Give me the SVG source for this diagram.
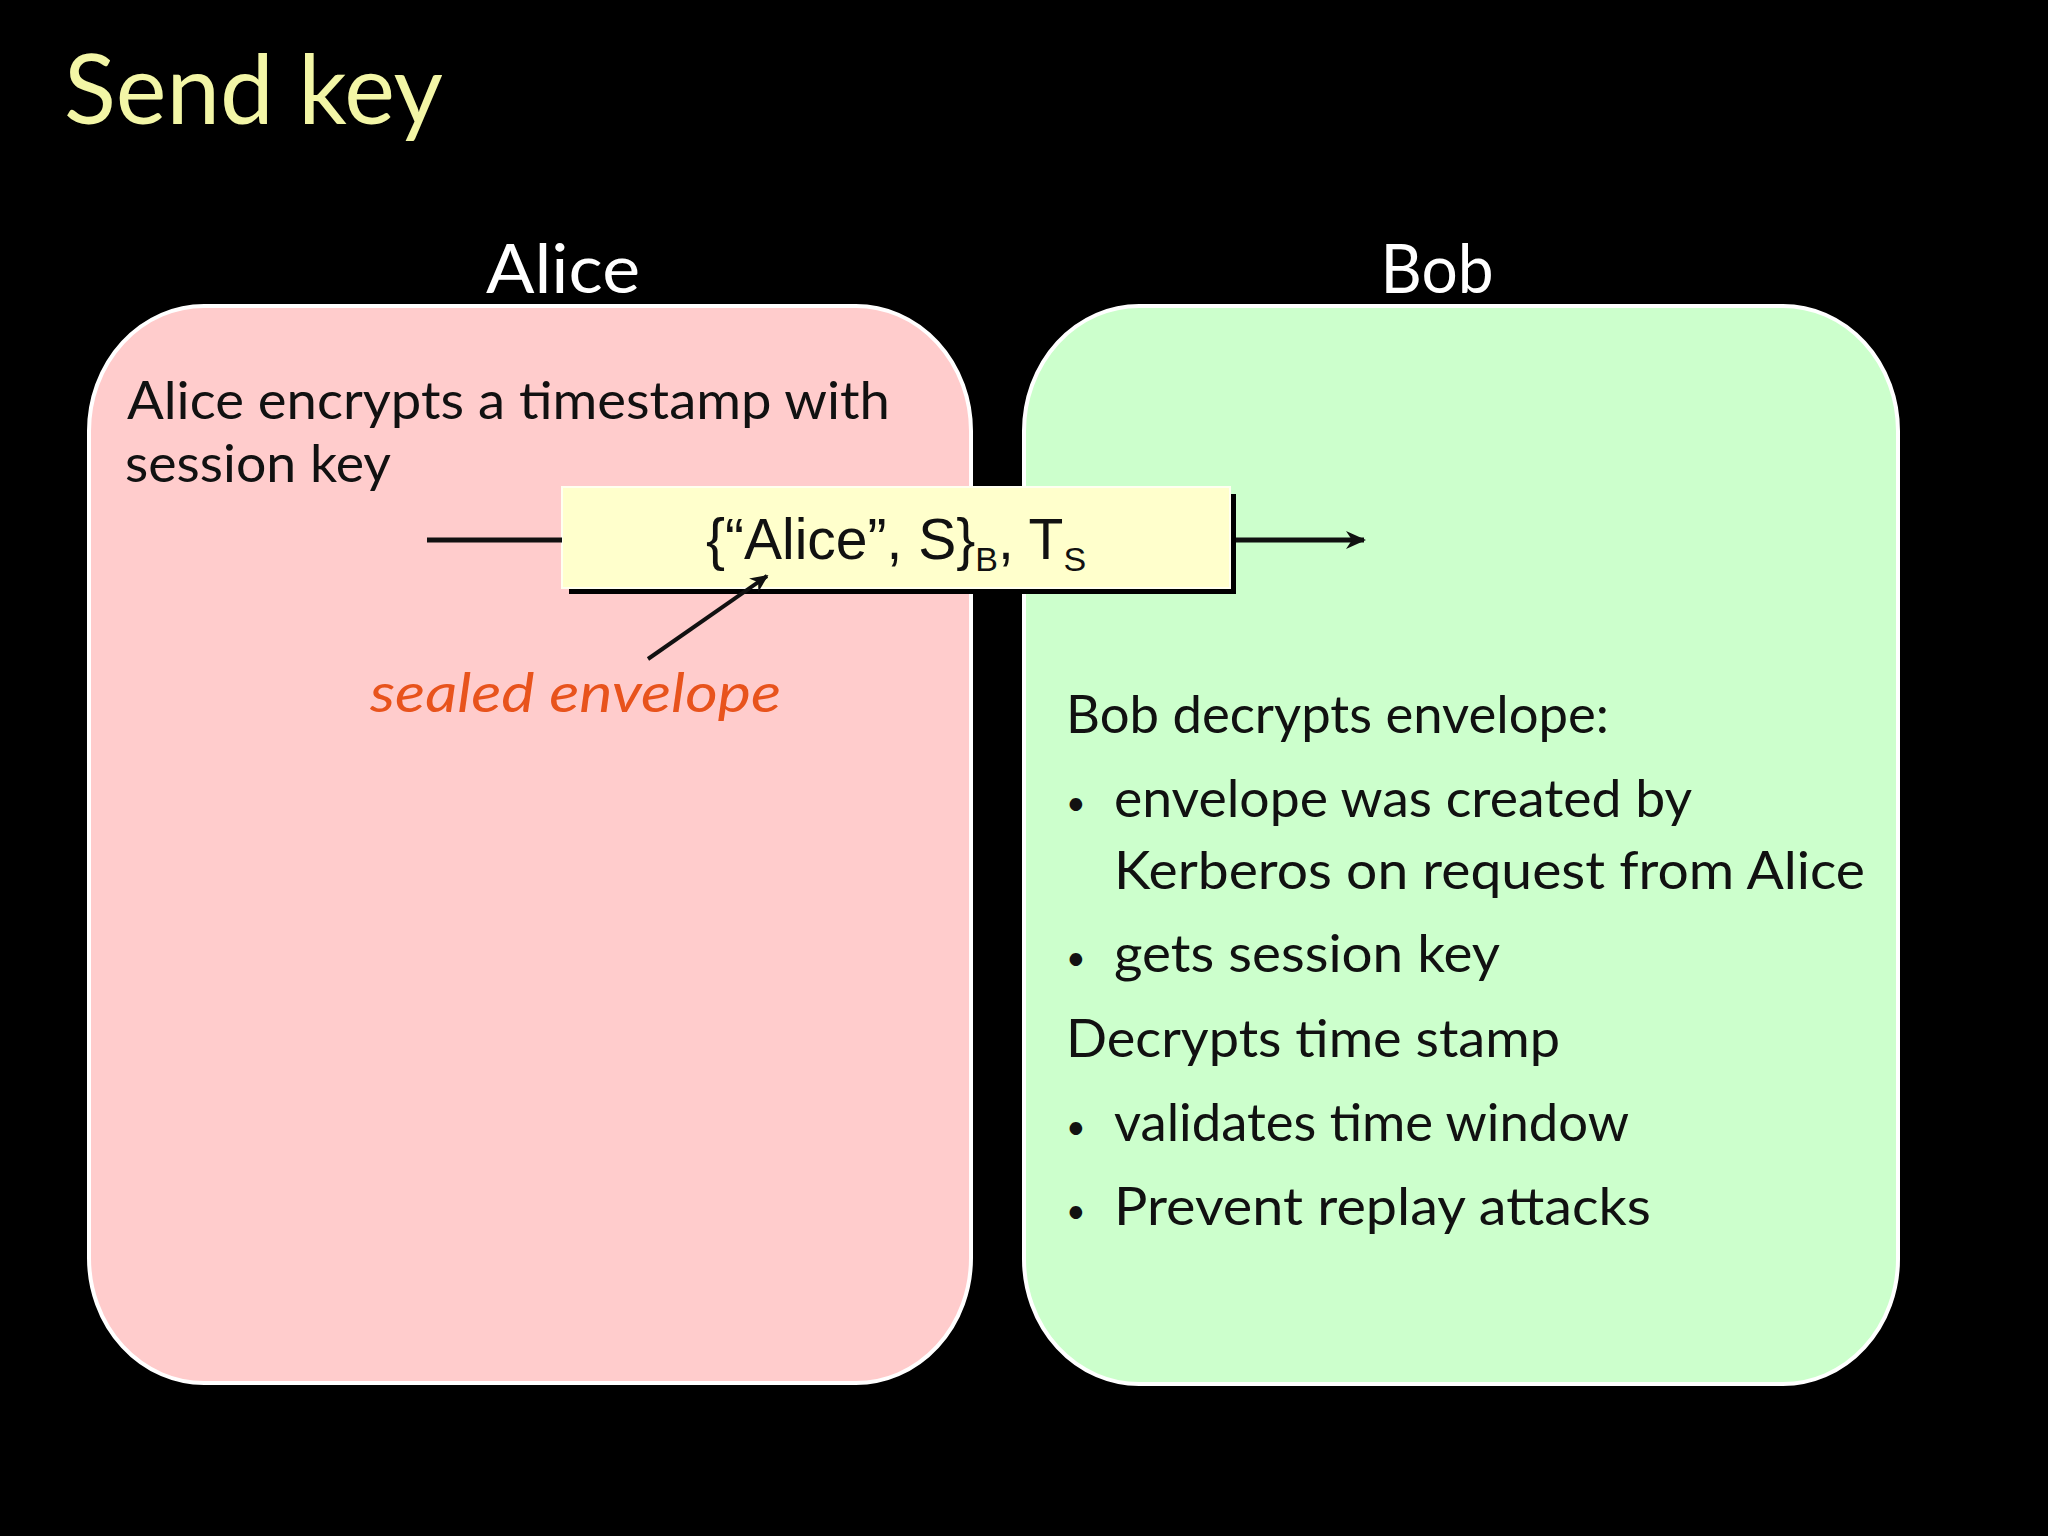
<svg xmlns="http://www.w3.org/2000/svg" width="2048" height="1536" viewBox="0 0 2048 1536">
  <style>
    .hand { font-family: "Comic Sans MS", "Lato", "DejaVu Sans", sans-serif; }
    .body { font-size: 52px; fill: #111; }
    .bullet { font-size: 34px; fill: #111; }
    .head { font-size: 68px; fill: #ffffff; }
    .panel { stroke: #ffffff; stroke-width: 4; }
    .wire { stroke: #111; fill: none; }
  </style>
  <defs>
    <marker id="stealth" viewBox="0 0 20 20" refX="18" refY="10" markerWidth="20" markerHeight="20" markerUnits="userSpaceOnUse" orient="auto">
      <path d="M0,1 L20,10 L0,19 L6,10 Z" fill="#111"/>
    </marker>
    <marker id="stealthSmall" viewBox="0 0 20 20" refX="18" refY="10" markerWidth="18" markerHeight="18" markerUnits="userSpaceOnUse" orient="auto">
      <path d="M0,1 L20,10 L0,19 L6,10 Z" fill="#111"/>
    </marker>
  </defs>
  <rect x="0" y="0" width="2048" height="1536" fill="#000000"/>

  <text id="title" class="hand" x="64" y="124" font-size="96" fill="#f3f6a6" textLength="379" lengthAdjust="spacingAndGlyphs">Send key</text>

  <g id="alice">
    <rect class="panel" x="89" y="306" width="882" height="1077" rx="115" ry="125" fill="#ffcccc"/>
    <text class="hand head" x="563" y="293" text-anchor="middle" textLength="154" lengthAdjust="spacingAndGlyphs">Alice</text>
    <text class="hand body" x="127" y="419" textLength="763" lengthAdjust="spacingAndGlyphs">Alice encrypts a timestamp with</text>
    <text class="hand body" x="125" y="482" textLength="266" lengthAdjust="spacingAndGlyphs">session key</text>
  </g>

  <g id="bob">
    <rect class="panel" x="1024" y="306" width="874" height="1078" rx="115" ry="125" fill="#ccffcc"/>
    <text class="hand head" x="1437" y="293" text-anchor="middle" textLength="113" lengthAdjust="spacingAndGlyphs">Bob</text>
    <text class="hand body" x="1066" y="733" textLength="543" lengthAdjust="spacingAndGlyphs">Bob decrypts envelope:</text>
    <text class="hand bullet" x="1066" y="815">•</text>
    <text class="hand body" x="1114" y="817" textLength="578" lengthAdjust="spacingAndGlyphs">envelope was created by</text>
    <text class="hand body" x="1114" y="889" textLength="751" lengthAdjust="spacingAndGlyphs">Kerberos on request from Alice</text>
    <text class="hand bullet" x="1066" y="970">•</text>
    <text class="hand body" x="1114" y="972" textLength="386" lengthAdjust="spacingAndGlyphs">gets session key</text>
    <text class="hand body" x="1066" y="1057" textLength="494" lengthAdjust="spacingAndGlyphs">Decrypts time stamp</text>
    <text class="hand bullet" x="1066" y="1139">•</text>
    <text class="hand body" x="1114" y="1141" textLength="515" lengthAdjust="spacingAndGlyphs">validates time window</text>
    <text class="hand bullet" x="1066" y="1223">•</text>
    <text class="hand body" x="1114" y="1225" textLength="537" lengthAdjust="spacingAndGlyphs">Prevent replay attacks</text>
  </g>

  <g id="message">
    <rect x="569" y="494" width="667" height="100" fill="#000000"/>
    <rect x="562" y="487" width="668" height="101" fill="#ffffcc" stroke="#fffff0" stroke-width="2"/>
    <text x="896" y="559" text-anchor="middle" font-family="Liberation Sans, Arial, sans-serif" font-size="57" fill="#111">{“Alice”, S}<tspan font-size="34" dy="12">B</tspan><tspan dy="-12">, T</tspan><tspan font-size="34" dy="12">S</tspan></text>
  </g>

  <g id="sealed-label">
    <text class="hand" x="370" y="712" font-size="54" font-style="italic" fill="#e8531c" textLength="411" lengthAdjust="spacingAndGlyphs">sealed envelope</text>
  </g>

  <g id="connectors">
    <line class="wire" x1="427" y1="540" x2="562" y2="540" stroke-width="5"/>
    <line class="wire" x1="1236" y1="540" x2="1364" y2="540" stroke-width="5" marker-end="url(#stealth)"/>
    <line class="wire" x1="648" y1="659" x2="767" y2="576" stroke-width="4" marker-end="url(#stealthSmall)"/>
  </g>
</svg>
